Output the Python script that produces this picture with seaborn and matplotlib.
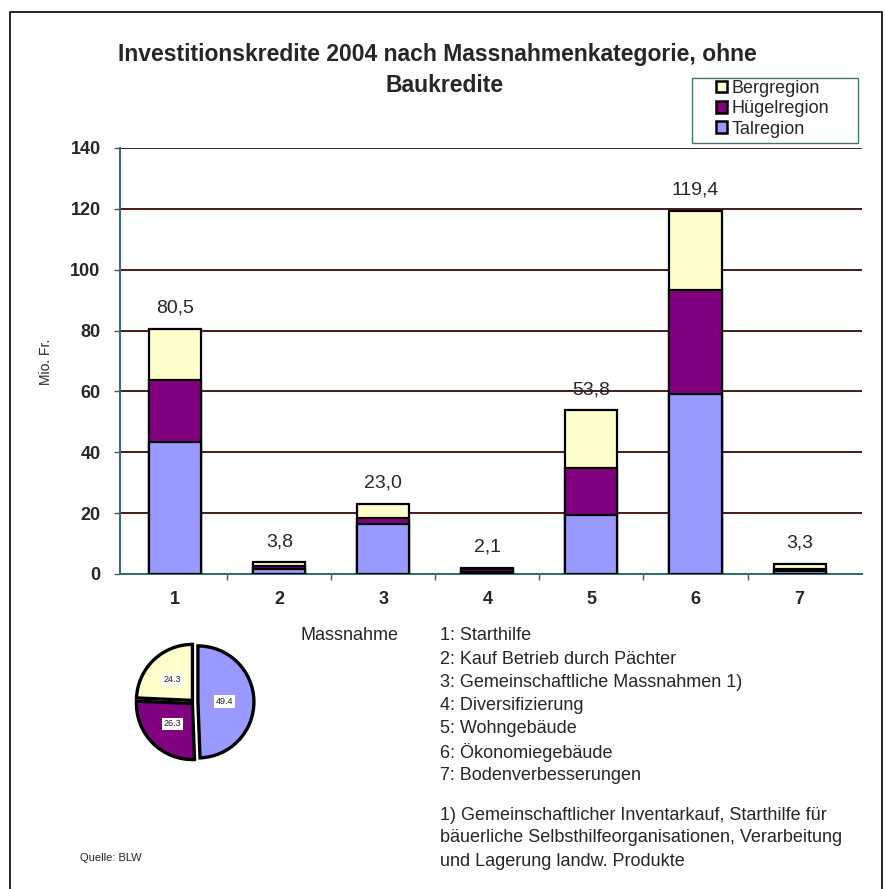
import matplotlib
matplotlib.use("Agg")
import matplotlib.pyplot as plt
import seaborn as sns
import numpy as np
from matplotlib.patches import Rectangle, Patch

sns.set_theme(style="white")
plt.rcParams['font.family'] = ['Liberation Sans', 'DejaVu Sans']

# ---- data ----
categories = ["1", "2", "3", "4", "5", "6", "7"]
tal = [43.4, 1.5, 16.4, 0.8, 19.4, 59.2, 1.0]
huegel = [20.4, 1.2, 2.0, 0.8, 15.4, 34.1, 0.8]
berg = [16.7, 1.1, 4.6, 0.5, 19.0, 26.1, 1.5]
totals = ["80,5", "3,8", "23,0", "2,1", "53,8", "119,4", "3,3"]
pie_labels = ["49.4", "26.3", "24.3"]
pie_values = [49.4, 26.3, 24.3]
series_names = ["Bergregion", "Hügelregion", "Talregion"]
yticks = [0, 20, 40, 60, 80, 100, 120, 140]
massnahmen = ["1: Starthilfe",
              "2: Kauf Betrieb durch Pächter",
              "3: Gemeinschaftliche Massnahmen 1)",
              "4: Diversifizierung",
              "5: Wohngebäude",
              "6: Ökonomiegebäude",
              "7: Bodenverbesserungen"]
footnote = ["1) Gemeinschaftlicher Inventarkauf, Starthilfe für",
            "bäuerliche Selbsthilfeorganisationen, Verarbeitung",
            "und Lagerung landw. Produkte"]

c_tal = "#9999FF"
c_hue = "#800080"
c_berg = "#FFFFCC"
c_axis = "#2E6E6E"

W, H = 885, 889
fig = plt.figure(figsize=(W / 100, H / 100), dpi=100)
fig.patch.set_facecolor("white")

# outer frame
fig.patches.append(Rectangle((10 / W, -0.01), 872 / W, 1 - 12 / H + 0.01,
                             transform=fig.transFigure, fill=False,
                             edgecolor="black", linewidth=1.2))

ax = fig.add_axes([120 / W, 1 - 574 / H, 742 / W, 426 / H])

cum_h = np.array(tal) + np.array(huegel)
cum_b = cum_h + np.array(berg)

for vals, col in [(cum_b, c_berg), (cum_h, c_hue), (np.array(tal), c_tal)]:
    sns.barplot(x=categories, y=vals, color=col, edgecolor="black",
                linewidth=1.6, width=0.5, ax=ax, saturation=1, zorder=3)

ax.set_ylim(0, 140)
ax.set_xlim(-0.53, 6.6)
ax.set_yticks(yticks)
ax.yaxis.grid(True, color="#3A0808", linewidth=1.3, zorder=0)
ax.set_axisbelow(True)
for s in ["top", "right"]:
    ax.spines[s].set_visible(False)
for s in ["left", "bottom"]:
    ax.spines[s].set_color(c_axis)
    ax.spines[s].set_linewidth(1.4)
ax.tick_params(axis="y", labelsize=13, length=4, width=1, color="#555555",
               direction="out", pad=10, left=True)
ax.tick_params(axis="x", labelsize=13, length=0, pad=12)
ax.set_xticks([i + 0.5 for i in range(6)], minor=True)
ax.tick_params(axis="x", which="minor", length=4, width=1, color="#555555",
               direction="out", bottom=True)
for lab in ax.get_xticklabels() + ax.get_yticklabels():
    lab.set_fontweight("bold")
ax.set_xlabel("")
ax.set_ylabel("")

for i, t in enumerate(totals):
    ax.text(i, cum_b[i] + 4, t, ha="center", va="bottom", fontsize=14)

fig.text(46 / W, 1 - 362 / H, "Mio. Fr.", rotation=90, ha="center",
         va="center", fontsize=10)

fig.text(437 / W, 1 - 55 / H, "Investitionskredite 2004 nach Massnahmenkategorie, ohne",
         ha="center", va="center", fontsize=16.5, fontweight="bold")
fig.text(445 / W, 1 - 85 / H, "Baukredite",
         ha="center", va="center", fontsize=16.5, fontweight="bold")

# legend
fig.patches.append(Rectangle((692 / W, 1 - 143 / H), 166 / W, 65 / H,
                             transform=fig.transFigure, fill=True,
                             facecolor="white", edgecolor="#4A7070",
                             linewidth=1.0, zorder=5))
handles = [Patch(facecolor=c, edgecolor="black", linewidth=1.8)
           for c in [c_berg, c_hue, c_tal]]
leg = fig.legend(handles, series_names, loc="upper left",
                 bbox_to_anchor=(716 / W, 1 - 80 / H), frameon=False,
                 fontsize=13, handlelength=0.6, handleheight=0.6,
                 handletextpad=0.25, labelspacing=0.18, borderpad=0.0,
                 borderaxespad=0)
leg.set_zorder(6)

# pie
axp = fig.add_axes([124 / W, 1 - 772 / H, 140 / W, 140 / H])
wedges, _ = axp.pie(pie_values, colors=[c_tal, c_hue, c_berg], startangle=90,
                    counterclock=False, explode=[0.07, 0.04, 0.04],
                    wedgeprops=dict(edgecolor="black", linewidth=2.4))
for w, lab in zip(wedges, pie_labels):
    ang = np.deg2rad((w.theta1 + w.theta2) / 2)
    axp.text(0.55 * np.cos(ang), 0.55 * np.sin(ang), lab, ha="center",
             va="center", fontsize=6.5,
             bbox=dict(facecolor="white", edgecolor="none", pad=1.2))
axp.set_aspect("equal")

fig.text(300 / W, 1 - 636 / H, "Massnahme", ha="left", va="center", fontsize=13)
for i, m in enumerate(massnahmen):
    fig.text(440 / W, 1 - (636 + 23.2 * i) / H, m, ha="left", va="center",
             fontsize=13)
for i, f in enumerate(footnote):
    fig.text(440 / W, 1 - (815 + 23 * i) / H, f, ha="left", va="center",
             fontsize=13)
fig.text(80 / W, 1 - 858 / H, "Quelle: BLW", ha="left", va="center",
         fontsize=8)

fig.savefig("out.png", dpi=100)
